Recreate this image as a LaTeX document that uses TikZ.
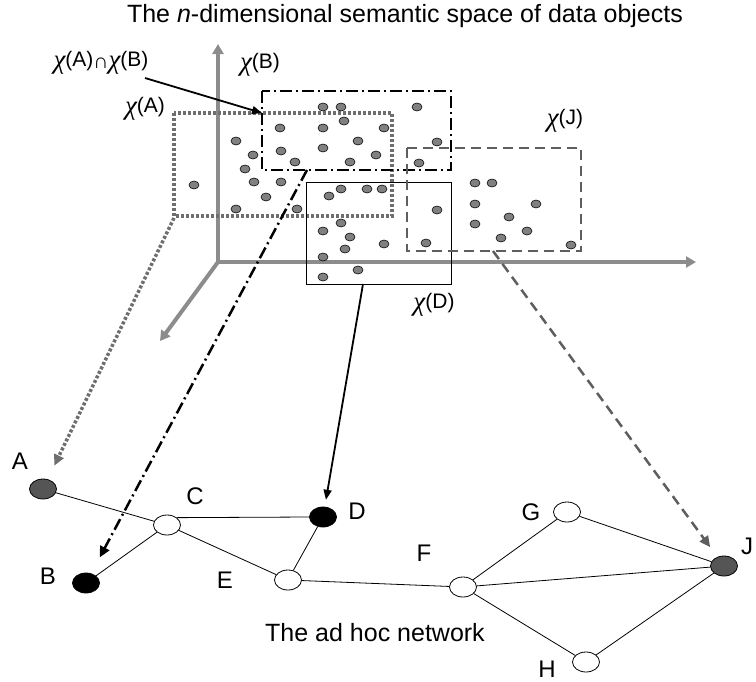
\documentclass[tikz,border=0pt]{standalone}
\usepackage{fontspec}
\setmainfont{Liberation Sans}
\newfontfamily\chifont{Liberation Serif}
\usetikzlibrary{arrows.meta,shapes.geometric}
\definecolor{axisgray}{HTML}{8C8C8C}
\definecolor{dotgray}{HTML}{808080}
\definecolor{agray}{HTML}{6E6E6E}
\definecolor{jgray}{HTML}{5E5E5E}
\definecolor{nodedark}{HTML}{555555}
\newcommand{\chilab}[1]{{\fontsize{27}{27}\selectfont\chifont\itshape χ}\raisebox{2pt}{\fontsize{21}{21}\selectfont(#1)}}
\begin{document}
\begin{tikzpicture}[x=1pt,y=-1pt,
  axis/.style={draw=axisgray, line width=4pt, -{Triangle[length=10pt,width=11pt]}},
  arectstyle/.style={draw=agray, line width=3.5pt, dash pattern=on 3pt off 2pt},
  brectstyle/.style={draw=black, line width=2.5pt, dash pattern=on 12pt off 4pt on 2pt off 4pt},
  drectstyle/.style={draw=black, line width=1pt},
  jrectstyle/.style={draw=jgray, line width=2.5pt, dash pattern=on 10pt off 6pt},
  dot/.style={fill=dotgray, draw=black, line width=0.6pt},
  netnode/.style={ellipse, draw=black, line width=0.8pt, minimum width=27pt, minimum height=20pt, inner sep=0pt},
  edge/.style={draw=black, line width=0.8pt},
  lab/.style={font=\fontsize{24}{24}\selectfont, inner sep=0pt},
  tip/.style={-{Triangle[length=10pt,width=8pt]}}
]
\useasboundingbox (0,0) rectangle (756,681);

% title
\node[lab, font=\fontsize{25}{25}\selectfont] (title) at (405,16) {The \textit{n}-dimensional semantic space of data objects};

% axes
\coordinate (O) at (218,262);
\coordinate (yT) at (218,44);
\coordinate (xT) at (696,262);
\coordinate (zT) at (160,341);
\draw[axis] (O) -- (yT);
\draw[axis] (O) -- (xT);
\draw[axis] (O) -- (zT);

% dots
\foreach \x/\y in {323/107,341/107,417/107,344/121,280/128,323/128,384/128,236/141,358/141,437/142,
  281/151,323/148,253/155,376/155,295/162,350/162,419/163,245/169,254/182,281/182,194/185,266/197,
  329/196,341/189,367/189,382/189,236/209,297/209,437/210,341/223,323/231,350/237,345/249,384/244,
  426/243,323/257,358/270,323/277,
  475/183,492/183,475/204,536/204,509/217,475/224,527/231,501/238,571/245}
  \draw[dot] (\x,\y) ellipse [x radius=5pt, y radius=4pt];

% rectangles
\draw[arectstyle] (174,113) rectangle (392,216);
\draw[brectstyle] (262,91) rectangle (451,170);
\draw[drectstyle] (306,182) rectangle (451,284);
\draw[jrectstyle] (407,148) rectangle (581,251);

% rectangle labels
\node[inner sep=0pt] (labAB) at (101,63) {\chilab{A}{\fontsize{21}{21}\selectfont ∩}\chilab{B}};
\node[inner sep=0pt] (labB) at (260,65) {\chilab{B}};
\node[inner sep=0pt] (labA) at (145,109) {\chilab{A}};
\node[inner sep=0pt] (labJ) at (565,121) {\chilab{J}};
\node[inner sep=0pt] (labD) at (434,305) {\chilab{D}};

% network nodes
\node[netnode, fill=nodedark] (nA) at (43,489) {};
\node[netnode, fill=black] (nB) at (86,583) {};
\node[netnode, fill=white] (nC) at (167,525) {};
\node[netnode, fill=black] (nD) at (323,517) {};
\node[netnode, fill=white] (nE) at (288,580) {};
\node[netnode, fill=white] (nF) at (463,587) {};
\node[netnode, fill=white] (nG) at (567,512) {};
\node[netnode, fill=white] (nH) at (586,662) {};
\node[netnode, fill=nodedark] (nJ) at (724,566) {};

% network labels
\node[lab] (tA) at (20,461) {A};
\node[lab] (tB) at (48,576) {B};
\node[lab] (tC) at (195,496) {C};
\node[lab] (tD) at (357,511) {D};
\node[lab] (tE) at (225,580) {E};
\node[lab] (tF) at (424,553) {F};
\node[lab] (tG) at (531,512) {G};
\node[lab] (tH) at (547,669) {H};
\node[lab, anchor=west] (tJ) at (741,546) {J};
\node[lab, font=\fontsize{25}{25}\selectfont] (tnet) at (375,633) {The ad hoc network};

% network edges
\draw[edge] (nA) -- (nC);
\draw[edge] (nC.north east) -- (nD.west);
\draw[edge] (nC) -- (nB);
\draw[edge] (nC) -- (nE);
\draw[edge] (nE) -- (nD);
\draw[edge] (nE) -- (nF);
\draw[edge] (nF) -- (nG);
\draw[edge] (nF) -- (nJ);
\draw[edge] (nF) -- (nH);
\draw[edge] (nG) -- (nJ);
\draw[edge] (nH) -- (nJ);

% mapping arrows
\coordinate (sAB) at (145,78);
\coordinate (eAB) at (262,113);
\draw[black, line width=1.8pt, tip] (sAB) -- (eAB);
\coordinate (sA) at (174,218);
\draw[agray, line width=3.5pt, dash pattern=on 3pt off 2pt, -{Triangle[length=11pt,width=10pt]}, shorten >=15pt] (sA) -- (nA);
\coordinate (sB) at (307,170);
\draw[black, line width=2.5pt, dash pattern=on 12pt off 4pt on 2pt off 4pt, -{Triangle[length=11pt,width=10pt]}, shorten >=18pt] (sB) -- (nB);
\coordinate (sD) at (363,284);
\draw[black, line width=1.8pt, tip, shorten >=7pt] (sD) -- (nD);
\coordinate (sJ) at (493,251);
\draw[jgray, line width=2.5pt, dash pattern=on 10pt off 6pt, -{Triangle[length=11pt,width=10pt]}, shorten >=12pt] (sJ) -- (nJ);
\end{tikzpicture}
\end{document}
